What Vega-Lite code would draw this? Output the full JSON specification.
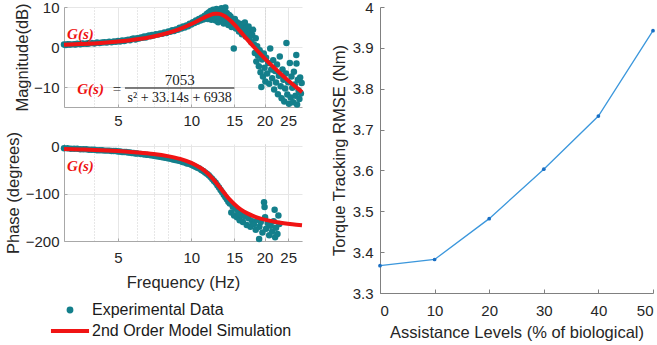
{
  "$schema": "https://vega.github.io/schema/vega-lite/v6.json",
  "padding": {"left": 5, "top": 0, "right": 0, "bottom": 0},
  "background": "white",
  "config": {
    "font": "Liberation Sans",
    "view": {"stroke": null},
    "axis": {
      "labelFont": "Liberation Sans", "labelFontSize": 15, "labelColor": "#262626",
      "titleFont": "Liberation Sans", "titleFontSize": 16.5, "titleFontWeight": "normal", "titleColor": "#262626",
      "domainColor": "#a8a8a8", "tickColor": "#a8a8a8", "gridColor": "#e6e6e6"
    }
  },
  "datasets": {
    "mag": [
      {"f":3.0,"db":0.6},{"f":3.05,"db":0.5},{"f":3.1,"db":0.7},{"f":3.15,"db":0.6},{"f":3.2,"db":0.6},{"f":3.3,"db":0.7},{"f":3.35,"db":0.6},{"f":3.4,"db":0.8},{"f":3.5,"db":0.7},{"f":3.55,"db":0.9},{"f":3.6,"db":0.8},{"f":3.7,"db":0.8},{"f":3.75,"db":0.9},{"f":3.8,"db":0.9},{"f":3.9,"db":1.0},{"f":4.0,"db":0.9},{"f":4.1,"db":1.1},{"f":4.2,"db":1.0},{"f":4.3,"db":1.1},{"f":4.4,"db":1.2},{"f":4.5,"db":1.1},{"f":4.6,"db":1.3},{"f":4.7,"db":1.2},{"f":4.8,"db":1.4},{"f":4.9,"db":1.3},{"f":5.0,"db":1.5},{"f":5.1,"db":1.4},{"f":5.2,"db":1.6},{"f":5.3,"db":1.5},{"f":5.4,"db":1.7},{"f":5.5,"db":1.8},{"f":5.6,"db":1.7},{"f":5.7,"db":2.0},{"f":5.8,"db":2.1},{"f":5.9,"db":1.9},{"f":6.0,"db":2.2},{"f":6.1,"db":2.1},{"f":6.2,"db":2.4},{"f":6.3,"db":2.3},{"f":6.4,"db":2.6},{"f":6.5,"db":2.4},{"f":6.6,"db":2.7},{"f":6.7,"db":2.9},{"f":6.8,"db":2.7},{"f":6.9,"db":3.0},{"f":7.0,"db":2.9},{"f":7.15,"db":3.2},{"f":7.3,"db":3.1},{"f":7.45,"db":3.4},{"f":7.6,"db":3.3},{"f":7.75,"db":3.6},{"f":7.9,"db":3.5},{"f":8.05,"db":3.9},{"f":8.2,"db":3.8},{"f":8.35,"db":4.2},{"f":8.5,"db":4.0},{"f":8.65,"db":4.4},{"f":8.8,"db":4.3},{"f":8.95,"db":4.8},{"f":9.1,"db":4.6},{"f":9.25,"db":5.1},{"f":9.4,"db":4.9},{"f":9.55,"db":5.4},{"f":9.7,"db":5.2},{"f":9.85,"db":5.8},{"f":10.0,"db":5.6},{"f":10.15,"db":6.2},{"f":10.3,"db":6.0},{"f":10.45,"db":6.6},{"f":10.6,"db":6.3},{"f":10.75,"db":7.0},{"f":10.9,"db":6.6},{"f":11.05,"db":7.4},{"f":11.2,"db":6.9},{"f":11.35,"db":7.8},{"f":11.5,"db":7.2},{"f":11.6,"db":8.3},{"f":11.7,"db":7.0},{"f":11.8,"db":8.6},{"f":11.9,"db":7.5},{"f":12.0,"db":9.0},{"f":12.1,"db":6.8},{"f":12.2,"db":8.2},{"f":12.3,"db":9.3},{"f":12.4,"db":7.3},{"f":12.5,"db":8.7},{"f":12.6,"db":6.6},{"f":12.7,"db":9.5},{"f":12.8,"db":7.9},{"f":12.9,"db":6.2},{"f":13.0,"db":9.0},{"f":13.1,"db":7.4},{"f":13.2,"db":8.4},{"f":13.3,"db":9.7},{"f":13.4,"db":6.9},{"f":13.5,"db":8.8},{"f":13.6,"db":5.9},{"f":13.7,"db":7.8},{"f":13.8,"db":9.9},{"f":13.9,"db":6.6},{"f":14.0,"db":8.5},{"f":14.1,"db":7.2},{"f":14.2,"db":5.5},{"f":14.3,"db":8.0},{"f":14.4,"db":6.3},{"f":14.5,"db":7.6},{"f":14.65,"db":5.0},{"f":14.8,"db":6.8},{"f":14.95,"db":-0.4},{"f":15.0,"db":5.8},{"f":15.1,"db":7.0},{"f":15.25,"db":4.6},{"f":15.4,"db":6.2},{"f":15.55,"db":5.3},{"f":15.7,"db":3.9},{"f":15.85,"db":5.8},{"f":16.0,"db":4.6},{"f":16.15,"db":3.2},{"f":16.3,"db":5.4},{"f":16.45,"db":4.0},{"f":16.6,"db":6.1},{"f":16.75,"db":2.6},{"f":16.9,"db":4.8},{"f":17.05,"db":3.4},{"f":17.2,"db":5.1},{"f":17.35,"db":2.0},{"f":17.5,"db":3.9},{"f":17.65,"db":1.2},{"f":17.8,"db":3.0},{"f":17.95,"db":4.3},{"f":18.1,"db":0.6},{"f":18.25,"db":-1.5},{"f":18.4,"db":2.2},{"f":18.5,"db":-3.6},{"f":18.65,"db":0.2},{"f":18.8,"db":-2.2},{"f":18.95,"db":-4.8},{"f":19.1,"db":-0.8},{"f":19.25,"db":-6.3},{"f":19.4,"db":-10.0},{"f":19.55,"db":-3.1},{"f":19.7,"db":-7.4},{"f":19.85,"db":-1.6},{"f":20.0,"db":-5.2},{"f":20.15,"db":-8.6},{"f":20.3,"db":-2.7},{"f":20.5,"db":-6.6},{"f":20.7,"db":-4.0},{"f":20.9,"db":-9.2},{"f":21.1,"db":-0.4},{"f":21.3,"db":-5.6},{"f":21.5,"db":-7.8},{"f":21.7,"db":-3.3},{"f":21.9,"db":-10.6},{"f":22.1,"db":-6.0},{"f":22.3,"db":-8.9},{"f":22.5,"db":-4.4},{"f":22.7,"db":-11.8},{"f":22.9,"db":-7.2},{"f":23.1,"db":-2.4},{"f":23.3,"db":-9.8},{"f":23.5,"db":-12.8},{"f":23.7,"db":-5.6},{"f":23.9,"db":-8.2},{"f":24.1,"db":-13.6},{"f":24.3,"db":-10.4},{"f":24.5,"db":-6.6},{"f":24.6,"db":1.0},{"f":24.8,"db":-11.9},{"f":25.0,"db":-8.8},{"f":25.2,"db":-14.2},{"f":25.4,"db":-4.0},{"f":25.6,"db":-12.6},{"f":25.8,"db":-7.4},{"f":26.0,"db":-10.2},{"f":26.2,"db":-13.8},{"f":26.4,"db":-6.2},{"f":26.6,"db":-9.4},{"f":26.8,"db":-12.2},{"f":27.0,"db":-2.0},{"f":27.05,"db":-4.1},{"f":27.2,"db":-14.4},{"f":27.4,"db":-8.2},{"f":27.6,"db":-10.9},{"f":27.8,"db":-13.0},{"f":28.0,"db":-7.6},{"f":28.2,"db":-11.6},{"f":28.4,"db":-9.0}
    ],
    "phase": [
      {"f":3.0,"ph":-4},{"f":3.1,"ph":-4},{"f":3.2,"ph":-5},{"f":3.3,"ph":-5},{"f":3.4,"ph":-5},{"f":3.5,"ph":-6},{"f":3.6,"ph":-6},{"f":3.7,"ph":-6},{"f":3.8,"ph":-7},{"f":3.9,"ph":-7},{"f":4.0,"ph":-7},{"f":4.1,"ph":-8},{"f":4.2,"ph":-8},{"f":4.3,"ph":-8},{"f":4.4,"ph":-9},{"f":4.5,"ph":-9},{"f":4.6,"ph":-9},{"f":4.7,"ph":-10},{"f":4.8,"ph":-10},{"f":4.9,"ph":-10},{"f":5.0,"ph":-11},{"f":5.1,"ph":-11},{"f":5.2,"ph":-12},{"f":5.3,"ph":-12},{"f":5.4,"ph":-12},{"f":5.5,"ph":-13},{"f":5.6,"ph":-13},{"f":5.7,"ph":-14},{"f":5.8,"ph":-14},{"f":5.9,"ph":-15},{"f":6.0,"ph":-15},{"f":6.2,"ph":-16},{"f":6.4,"ph":-17},{"f":6.6,"ph":-18},{"f":6.8,"ph":-19},{"f":7.0,"ph":-20},{"f":7.2,"ph":-21},{"f":7.4,"ph":-22},{"f":7.6,"ph":-23},{"f":7.8,"ph":-24},{"f":8.0,"ph":-25},{"f":8.2,"ph":-26},{"f":8.4,"ph":-28},{"f":8.6,"ph":-29},{"f":8.8,"ph":-30},{"f":9.0,"ph":-31},{"f":9.2,"ph":-33},{"f":9.4,"ph":-34},{"f":9.6,"ph":-36},{"f":9.8,"ph":-37},{"f":10.0,"ph":-39},{"f":10.2,"ph":-41},{"f":10.4,"ph":-43},{"f":10.6,"ph":-45},{"f":10.8,"ph":-47},{"f":11.0,"ph":-50},{"f":11.2,"ph":-52},{"f":11.4,"ph":-55},{"f":11.6,"ph":-58},{"f":11.8,"ph":-61},{"f":12.0,"ph":-65},{"f":12.2,"ph":-69},{"f":12.4,"ph":-73},{"f":12.6,"ph":-77},{"f":12.8,"ph":-82},{"f":13.0,"ph":-87},{"f":13.2,"ph":-92},{"f":13.4,"ph":-97},{"f":13.6,"ph":-102},{"f":13.8,"ph":-107},{"f":14.0,"ph":-112},{"f":14.2,"ph":-117},{"f":14.4,"ph":-121},{"f":14.6,"ph":-140},{"f":14.8,"ph":-127},{"f":15.0,"ph":-146},{"f":15.2,"ph":-132},{"f":15.4,"ph":-150},{"f":15.6,"ph":-138},{"f":15.8,"ph":-156},{"f":16.0,"ph":-145},{"f":16.3,"ph":-160},{"f":16.6,"ph":-148},{"f":16.9,"ph":-166},{"f":17.2,"ph":-152},{"f":17.5,"ph":-170},{"f":17.8,"ph":-158},{"f":18.1,"ph":-164},{"f":18.4,"ph":-176},{"f":18.7,"ph":-155},{"f":19.0,"ph":-196},{"f":19.05,"ph":-170},{"f":19.3,"ph":-160},{"f":19.6,"ph":-182},{"f":19.9,"ph":-118},{"f":20.0,"ph":-128},{"f":20.1,"ph":-150},{"f":20.3,"ph":-174},{"f":20.6,"ph":-162},{"f":20.9,"ph":-188},{"f":21.2,"ph":-168},{"f":21.5,"ph":-180},{"f":21.8,"ph":-158},{"f":22.0,"ph":-134},{"f":22.1,"ph":-192},{"f":22.3,"ph":-172},{"f":22.6,"ph":-185},{"f":22.8,"ph":-146},{"f":23.0,"ph":-164}
    ],
    "model": [
      {"f":3.0,"db":0.56,"ph":-5.4,"series":"2nd Order Model Simulation"},
      {"f":3.5,"db":0.72,"ph":-6.4,"series":"2nd Order Model Simulation"},
      {"f":4.0,"db":0.90,"ph":-7.5,"series":"2nd Order Model Simulation"},
      {"f":4.5,"db":1.11,"ph":-8.7,"series":"2nd Order Model Simulation"},
      {"f":5.0,"db":1.35,"ph":-9.9,"series":"2nd Order Model Simulation"},
      {"f":6.0,"db":1.92,"ph":-12.8,"series":"2nd Order Model Simulation"},
      {"f":7.0,"db":2.63,"ph":-16.2,"series":"2nd Order Model Simulation"},
      {"f":8.0,"db":3.50,"ph":-20.7,"series":"2nd Order Model Simulation"},
      {"f":9.0,"db":4.54,"ph":-26.6,"series":"2nd Order Model Simulation"},
      {"f":10.0,"db":5.74,"ph":-34.9,"series":"2nd Order Model Simulation"},
      {"f":10.5,"db":6.37,"ph":-40.2,"series":"2nd Order Model Simulation"},
      {"f":11.0,"db":7.00,"ph":-46.7,"series":"2nd Order Model Simulation"},
      {"f":11.5,"db":7.58,"ph":-54.4,"series":"2nd Order Model Simulation"},
      {"f":12.0,"db":8.04,"ph":-63.4,"series":"2nd Order Model Simulation"},
      {"f":12.5,"db":8.30,"ph":-73.5,"series":"2nd Order Model Simulation"},
      {"f":12.75,"db":8.32,"ph":-78.9,"series":"2nd Order Model Simulation"},
      {"f":13.0,"db":8.28,"ph":-84.4,"series":"2nd Order Model Simulation"},
      {"f":13.5,"db":7.95,"ph":-95.2,"series":"2nd Order Model Simulation"},
      {"f":14.0,"db":7.36,"ph":-105.3,"series":"2nd Order Model Simulation"},
      {"f":14.5,"db":6.56,"ph":-114.3,"series":"2nd Order Model Simulation"},
      {"f":15.0,"db":5.65,"ph":-121.9,"series":"2nd Order Model Simulation"},
      {"f":15.5,"db":4.69,"ph":-128.3,"series":"2nd Order Model Simulation"},
      {"f":16.0,"db":3.72,"ph":-133.6,"series":"2nd Order Model Simulation"},
      {"f":17.0,"db":1.85,"ph":-141.6,"series":"2nd Order Model Simulation"},
      {"f":18.0,"db":0.13,"ph":-147.4,"series":"2nd Order Model Simulation"},
      {"f":19.0,"db":-1.43,"ph":-151.6,"series":"2nd Order Model Simulation"},
      {"f":20.0,"db":-2.84,"ph":-154.8,"series":"2nd Order Model Simulation"},
      {"f":22.0,"db":-5.31,"ph":-159.4,"series":"2nd Order Model Simulation"},
      {"f":24.0,"db":-7.42,"ph":-162.5,"series":"2nd Order Model Simulation"},
      {"f":26.0,"db":-9.26,"ph":-164.7,"series":"2nd Order Model Simulation"},
      {"f":28.5,"db":-11.27,"ph":-166.7,"series":"2nd Order Model Simulation"}
    ],
    "rmse": [
      {"level":0,"rmse":3.367},{"level":10,"rmse":3.382},{"level":20,"rmse":3.482},
      {"level":30,"rmse":3.603},{"level":40,"rmse":3.733},{"level":50,"rmse":3.942}
    ]
  },
  "hconcat": [
    {
      "vconcat": [
        {
          "width": 238, "height": 100,
          "layer": [
            {
              "data": {"name": "mag"},
              "mark": {"type": "point", "filled": true, "size": 42, "opacity": 1, "color": "#137f8b"},
              "encoding": {
                "x": {"field": "f", "type": "quantitative",
                  "scale": {"type": "log", "domain": [3, 28.5], "nice": false},
                  "axis": {"orient": "bottom", "values": [5, 10, 15, 20, 25], "format": "d", "title": null, "grid": true, "tickSize": -3, "labelPadding": 9}},
                "y": {"field": "db", "type": "quantitative",
                  "scale": {"domain": [-15, 10], "nice": false},
                  "axis": {"values": [-10, 0, 10], "title": "Magnitude(dB)", "grid": true, "tickSize": -3, "labelPadding": 8, "titlePadding": 3}}
              }
            },
            {
              "data": {"name": "model"},
              "mark": {"type": "line", "color": "#f01414", "strokeWidth": 4, "interpolate": "monotone"},
              "encoding": {
                "x": {"field": "f", "type": "quantitative",
                  "axis": {"orient": "top", "values": [3, 4, 6, 7, 8, 9, 20], "labels": false, "ticks": false, "domain": false, "title": null, "grid": true, "gridDash": [1, 2], "gridColor": "#cfcfcf"}},
                "y": {"field": "db", "type": "quantitative"}
              }
            },
            {
              "data": {"values": [{"f": 3.09, "db": 3.2, "t": "G(s)"}, {"f": 3.40, "db": -10.5, "t": "G(s)"}]},
              "mark": {"type": "text", "align": "left", "baseline": "middle", "font": "Liberation Serif", "fontSize": 15, "fontWeight": "bold", "fontStyle": "italic", "color": "#ee1111"},
              "encoding": {
                "x": {"field": "f", "type": "quantitative", "axis": null},
                "y": {"field": "db", "type": "quantitative"},
                "text": {"field": "t"}
              }
            },
            {
              "data": {"values": [{"f": 4.95, "db": -10.5, "t": "=", "s": 15}, {"f": 8.96, "db": -8.3, "t": "7053", "s": 15}, {"f": 8.96, "db": -12.7, "t": "s² + 33.14s + 6938", "s": 14}]},
              "mark": {"type": "text", "align": "center", "baseline": "middle", "font": "Liberation Serif", "color": "#1a1a1a"},
              "encoding": {
                "x": {"field": "f", "type": "quantitative", "axis": null},
                "y": {"field": "db", "type": "quantitative"},
                "text": {"field": "t"},
                "size": {"field": "s", "type": "quantitative", "scale": null}
              }
            },
            {
              "data": {"values": [{"f1": 5.34, "f2": 15.03, "db": -10.27}]},
              "mark": {"type": "rule", "color": "#555555", "strokeWidth": 1.5},
              "encoding": {
                "x": {"field": "f1", "type": "quantitative", "axis": null},
                "x2": {"field": "f2"},
                "y": {"field": "db", "type": "quantitative"}
              }
            }
          ],
          "resolve": {"axis": {"x": "independent"}}
        },
        {
          "width": 238, "height": 97,
          "layer": [
            {
              "data": {"name": "phase"},
              "mark": {"type": "point", "filled": true, "size": 42, "opacity": 1, "color": "#137f8b"},
              "encoding": {
                "x": {"field": "f", "type": "quantitative",
                  "scale": {"type": "log", "domain": [3, 28.5], "nice": false},
                  "axis": {"orient": "bottom", "values": [5, 10, 15, 20, 25], "format": "d", "title": "Frequency (Hz)", "grid": true, "tickSize": -3, "labelPadding": 12, "titlePadding": 9}},
                "y": {"field": "ph", "type": "quantitative",
                  "scale": {"domain": [-200, 5], "nice": false},
                  "axis": {"values": [-200, -100, 0], "title": "Phase (degrees)", "grid": true, "tickSize": -3, "labelPadding": 8, "titlePadding": 4}}
              }
            },
            {
              "data": {"name": "model"},
              "mark": {"type": "line", "strokeWidth": 4, "interpolate": "monotone"},
              "encoding": {
                "x": {"field": "f", "type": "quantitative",
                  "axis": {"orient": "top", "values": [3, 4, 6, 7, 8, 9, 20], "labels": false, "ticks": false, "domain": false, "title": null, "grid": true, "gridDash": [1, 2], "gridColor": "#cfcfcf"}},
                "y": {"field": "ph", "type": "quantitative"},
                "color": {"field": "series", "type": "nominal",
                  "scale": {"domain": ["Experimental Data", "2nd Order Model Simulation"], "range": ["#137f8b", "#f01414"]},
                  "legend": {
                    "title": null, "orient": "none", "legendX": -2, "legendY": 295,
                    "padding": 0, "symbolSize": 58, "symbolStrokeWidth": 4, "labelLimit": 400,
                    "labelFont": "Liberation Sans", "labelFontSize": 16, "labelColor": "#1a1a1a", "labelOffset": 14, "rowPadding": 3,
                    "encode": {"symbols": {"update": {
                      "shape": {"signal": "(datum.value === 'Experimental Data') ? 'circle' : 'M-5,0H5'"},
                      "size": {"signal": "(datum.value === 'Experimental Data') ? 8 : 58"},
                      "fill": {"signal": "(datum.value === 'Experimental Data') ? '#137f8b' : 'transparent'"},
                      "opacity": {"value": 1}
                    }}}
                  }}
              }
            },
            {
              "data": {"values": [{"f": 3.09, "ph": -40.8, "t": "G(s)"}]},
              "mark": {"type": "text", "align": "left", "baseline": "middle", "font": "Liberation Serif", "fontSize": 15, "fontWeight": "bold", "fontStyle": "italic", "color": "#ee1111"},
              "encoding": {
                "x": {"field": "f", "type": "quantitative", "axis": null},
                "y": {"field": "ph", "type": "quantitative"},
                "text": {"field": "t"}
              }
            }
          ],
          "resolve": {"axis": {"x": "independent"}}
        }
      ],
      "spacing": 37,
      "bounds": "flush"
    },
    {
      "width": 273, "height": 286,
      "data": {"name": "rmse"},
      "mark": {"type": "line", "color": "#3b97dc", "strokeWidth": 1.3, "point": {"filled": true, "size": 14, "color": "#1a6fc4"}},
      "encoding": {
        "x": {"field": "level", "type": "quantitative",
          "scale": {"domain": [0, 50], "nice": false},
          "axis": {"values": [0, 10, 20, 30, 40, 50], "title": "Assistance Levels (% of biological)", "grid": false, "tickSize": -4, "labelPadding": 14, "titlePadding": 6, "domainColor": "#808080", "tickColor": "#808080"}},
        "y": {"field": "rmse", "type": "quantitative",
          "scale": {"domain": [3.3, 4], "nice": false, "zero": false},
          "axis": {"values": [3.3, 3.4, 3.5, 3.6, 3.7, 3.8, 3.9, 4], "format": "~g", "title": "Torque Tracking RMSE (Nm)", "grid": false, "tickSize": -4, "labelPadding": 11, "titlePadding": 5, "domainColor": "#808080", "tickColor": "#808080"}}
      }
    }
  ],
  "spacing": 21
}
